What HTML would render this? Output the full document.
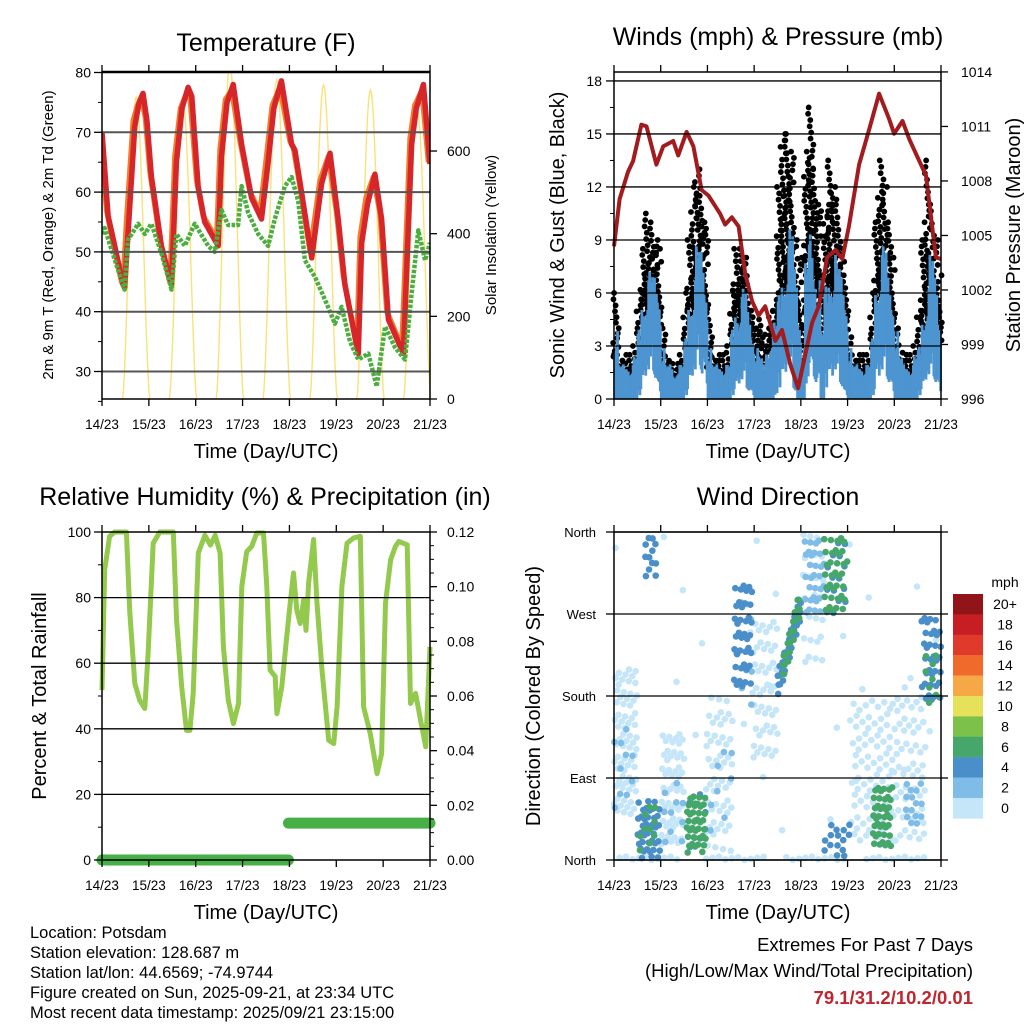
<!DOCTYPE html>
<html><head><meta charset="utf-8"><title>Weather station 7-day summary</title>
<style>
html,body{margin:0;padding:0;background:#fff;}
svg{display:block;font-family:"Liberation Sans",Arial,sans-serif;}
</style></head>
<body>
<svg id="chart" width="1024" height="1024" viewBox="0 0 1024 1024" xmlns="http://www.w3.org/2000/svg">
<rect x="0" y="0" width="1024" height="1024" fill="#fff"/>
<text x="266" y="51" font-size="25" text-anchor="middle">Temperature (F)</text>
<text x="778" y="45" font-size="25" text-anchor="middle">Winds (mph) &amp; Pressure (mb)</text>
<text x="265" y="505" font-size="25" text-anchor="middle">Relative Humidity (%) &amp; Precipitation (in)</text>
<text x="778" y="505" font-size="25" text-anchor="middle">Wind Direction</text>

<text x="266" y="458" font-size="20" text-anchor="middle">Time (Day/UTC)</text>
<text x="778" y="458" font-size="20" text-anchor="middle">Time (Day/UTC)</text>
<text x="266" y="919" font-size="20" text-anchor="middle">Time (Day/UTC)</text>
<text x="778" y="919" font-size="20" text-anchor="middle">Time (Day/UTC)</text>

<text transform="translate(53,235) rotate(-90)" font-size="15" text-anchor="middle">2m &amp; 9m T (Red, Orange) &amp; 2m Td (Green)</text>
<text transform="translate(496,235) rotate(-90)" font-size="15" text-anchor="middle">Solar Insolation (Yellow)</text>
<text transform="translate(564,235) rotate(-90)" font-size="20" text-anchor="middle">Sonic Wind &amp; Gust (Blue, Black)</text>
<text transform="translate(1020,235) rotate(-90)" font-size="20" text-anchor="middle">Station Pressure (Maroon)</text>
<text transform="translate(46,696) rotate(-90)" font-size="20" text-anchor="middle">Percent &amp; Total Rainfall</text>
<text transform="translate(540,696) rotate(-90)" font-size="20" text-anchor="middle">Direction (Colored By Speed)</text>

<g font-size="16.5">
<text x="30" y="938">Location: Potsdam</text>
<text x="30" y="958">Station elevation: 128.687 m</text>
<text x="30" y="978">Station lat/lon: 44.6569; -74.9744</text>
<text x="30" y="998">Figure created on Sun, 2025-09-21, at 23:34 UTC</text>
<text x="30" y="1018">Most recent data timestamp: 2025/09/21 23:15:00</text>
</g>
<g font-size="18.5" text-anchor="end">
<text x="973" y="951">Extremes For Past 7 Days</text>
<text x="973" y="977">(High/Low/Max Wind/Total Precipitation)</text>
<text x="973" y="1004" font-weight="bold" fill="#c0262d">79.1/31.2/10.2/0.01</text>
</g>
<g id="layer"></g>
</svg>
<script>
// ---------------- DATA ----------------
var dayLabels = ["14/23","15/23","16/23","17/23","18/23","19/23","20/23","21/23"];
var dayHours = [0,24,48,72,96,120,144,168];

var tempTicks = [30,40,50,60,70,80];
var solarTicks = [0,200,400,600];
var mphTicks = [0,3,6,9,12,15,18];
var pressTicks = [996,999,1002,1005,1008,1011,1014];
var rhTicks = [0,20,40,60,80,100];
var rainTicks = ["0.00","0.02","0.04","0.06","0.08","0.10","0.12"];
var dirTicks = [0,90,180,270,360];
var dirLabels = ["North","East","South","West","North"];

var redT = [0,3.1,6.5,10.8,11.6,13.3,16.8,19,21,23,25.3,30.4,35.6,38.1,41,44.1,46,49.2,52.6,59.5,61.2,64,67.2,71.5,76.6,81.7,85.1,88,91.9,97.1,98.8,102.2,107.4,112.5,116.8,121,124.4,131.3,133,136,139.8,143.2,146.7,154.4,158.6,161,164.6,168];
var redV = [70,56,51,44.5,44,53,71,75,76.5,72,62.6,51,44.5,65,74,77.5,76,61,55,51,66,75,78,68,59,55.5,65,74,78.6,68,67,60,49,61.4,66.5,55.5,44.5,33,51.5,58,63,55.5,38.7,33,68,74,78,64.7];
var orangeV = [70,57,51.5,45,44.5,55,72,74.5,75.5,72.5,63.5,52,45,66,74,76.5,75.5,62,56,52,67,75.5,77,68.5,60,56.5,66,74.5,77.5,68.5,67.5,61,50,62,66,56.5,46,34,52.5,59,62.5,56.5,40,34,69,74.5,77,65];
var dewT = [0,1.4,6.5,11.6,13.3,18.5,21.9,25.3,30.4,35.6,38.1,42.4,47.5,54.4,57.8,61.2,64.6,69.7,71.5,74.9,80,85.1,88.5,93.7,97.1,100.5,103.9,109.1,114.2,119.3,122.7,127,131.3,136.4,140.7,145,150.1,155.2,158.6,162,165.5,168];
var dewV = [53,54,48.7,43.7,52,54.7,53,54.7,49.8,43.7,53,51,54.7,51,50,57,54.5,54.5,61,56.5,53,51,55.5,61,62.5,58.5,48.6,45.8,42,38,40.8,35,32,33,27.5,37.5,34,32,43,53.6,48.6,51.5];
var solarNoon = [17.5,41.5,65.5,89.5,113.5,137.5,161.5];
var solarPeak = [731,715,810,772,760,748,699];

var windHours = [0,2,4,6,8,10,12,14,16,18,20,22,24,26,28,30,32,34,36,38,40,42,44,46,48,50,52,54,56,58,60,62,64,66,68,70,72,74,76,78,80,82,84,86,88,90,92,94,96,98,100,102,104,106,108,110,112,114,116,118,120,122,124,126,128,130,132,134,136,138,140,142,144,146,148,150,152,154,156,158,160,162,164,166];
var windMax = [4,2,2,2,2,2.5,4,6,7,7.5,7,6.5, 3,2,2,1.5,2,2,3.5,6,7,9,8.5,7, 3,2,2,2,2,2,4,5.5,6,6.5,5,4, 3,2.5,2,3,4,4.5,6,7.5,9,10,7.5,5, 3,8,9.5,8,7,4,6.5,7.5,8.5,8,7,6, 3,2,2,2,2,2,3.5,7,8.5,9,7,6, 4,2.5,2,2,2,2.5,3,5,6.5,8.5,7,5];
var windMin = [0,0,0,0,0,0,0.5,2,3,3,2.5,1, 0,0,0,0,0,0,0.5,2,3,3.5,3,2, 0,0,0,0,0,0,0.5,1.5,2,2,1,0.5, 0,0,0,0,0,0.5,1.5,2.5,3.5,3,1,0, 0,2,3,2,1.5,0,1.5,2.5,3,2.5,1.5,0.5, 0,0,0,0,0,0,0.5,2.5,3,3,2,1, 0,0,0,0,0,0,0.5,1.5,2.5,2.5,2,1];
var gustMax = [6,2.5,2.5,2,2.5,3,6,8.5,10.5,10,9,8.5, 4,2.5,2,2,2,2.5,6,9,12,13,11.5,10, 4.5,2.5,2.5,2.5,2.5,3,6.5,8.5,8.5,8,6.5,5, 4,4.5,3,4,5,6,12,15,15,14,9,8, 4,14,16.5,13,11,7,11,13.5,12,11,8.5,7, 3.5,2.5,2.5,2.5,2.5,2.5,6,10,13.5,12,10,8, 4,3,2.5,2.5,2.5,3,5,9,13.5,11,9,7];
var pressT = [0,2.9,7.2,9.8,14.1,16.7,21.8,25.3,30.4,33,37.3,40.8,45,48.5,54.5,57.1,60.5,64,67.4,70.9,74.3,77.7,82.9,86.3,90.6,94.6,98.4,101.8,105.2,109.5,113.8,117.3,120.7,125.9,131,136.2,141.4,143.9,148.2,151.7,156,160.3,165.4,168];
var pressV = [1004.4,1007.0,1008.5,1009.1,1011.1,1011.0,1008.9,1009.9,1010.2,1009.4,1010.7,1009.9,1007.5,1007.2,1006.2,1005.6,1006.0,1005.5,1002.9,1001.4,1000.6,1001.1,999.2,999.8,997.9,996.6,998.5,1000.2,1001.1,1003.8,1004.2,1003.7,1005.5,1008.9,1010.8,1012.8,1011.4,1010.6,1011.3,1010.3,1009.3,1008.3,1003.8,1003.7];

var rhT = [0,1.4,3.9,6.5,12.5,14.2,16.8,19.3,21.9,23.6,26.2,29.6,36.5,38.2,40.8,43.3,45,46.7,49.3,52.7,55.5,58,60.5,62.2,64.7,67.3,69.9,71.6,74.1,76.7,79.3,82.7,84.4,86.1,88.7,89.6,92.1,94.6,96.4,98.1,99.8,101.5,103.3,104.5,105.8,108.4,110.1,112.7,116.1,118.7,120.4,122.9,125.5,128.9,132.3,134,137.4,140.9,143.2,145.2,147.8,150.3,152,156.3,158,160.6,163.2,165.8,168];
var rhV = [51.8,88.5,98.7,100,100,76,53.8,48.7,46.2,63,96.6,100,100,73,52.8,39.5,39.5,50.8,93.6,99,96,99,93.6,65,48.7,41.6,47.7,83.4,94,95.6,99.7,99.7,83.4,57.9,55.9,44.6,52.8,68,78.3,87.5,76.2,72.1,79.3,70,84.4,97.7,78.3,57.9,36.5,35.5,46.7,83.4,96.6,98.2,98.7,46.7,38.5,26.3,32.4,78.3,91.5,95.6,97.1,96.1,47.7,50.8,42.6,34.5,65];
var rainT = [0,95.5,95.5,168];
var rainV = [0,0,0.0135,0.0135];

var speedBins = ["0","2","4","6","8","10","12","14","16","18","20+"];
var speedColors = ["#c4e6f8","#7fbde8","#4a8fca","#45a76a","#7cc14a","#e6e15a","#f7a846","#f06a2c","#df3a2b","#c71e24","#911419"];
var clT0 = [0,0,12,13,15,24,24,37,37,47,47,61,61,71,84,86,98,96,108,108,108,121,133,143,150,158,160,0,0];
var clT1 = [12,12,23.5,23,22,36,36,47.5,47.5,61,61,71,71,84,96,96,108,108,120,120,121,143,143,160,160,168,167,168,168];
var clD0 = [45,50,2,5,310,10,15,8,8,10,20,190,170,110,190,200,270,200,270,270,1,20,10,20,40,170,170,0,0];
var clD1 = [210,150,65,60,358,140,90,70,75,180,120,310,300,270,280,285,358,358,358,358,40,175,80,190,90,270,230,360,4];
var clSpd = [1,3,4,6,4,1,3,6.5,4,1,3,4,3,1,4.5,7,3,1,6.5,4,5,1,7,1,3,4,6,1,1];
var clN = [70,10,40,10,12,55,10,38,10,55,8,40,10,50,35,25,30,25,35,15,15,80,40,60,15,35,8,30,40];
var clDiag = [0,0,0,0,0,0,0,0,0,0,0,0,0,0,1,1,0,0,0,0,0,0,0,0,0,0,0,0,0];

// ---------------- DRAWING ----------------
var NS = "http://www.w3.org/2000/svg";
var layer = document.getElementById("layer");
function mk(tag, attrs, name, inter, parent) {
  var el = document.createElementNS(NS, tag);
  for (var k in attrs) el.setAttribute(k, attrs[k]);
  
  
  (parent || layer).appendChild(el);
  return el;
}
function txt(x, y, s, size, anchor, name, extra) {
  var a = {x: x, y: y, "font-size": size, "text-anchor": anchor};
  if (extra) for (var k in extra) a[k] = extra[k];
  var t = mk("text", a, name, false);
  t.textContent = s;
  return t;
}
function ln(x1, y1, x2, y2, color, w, name, g) {
  return mk("line", {x1: x1, y1: y1, x2: x2, y2: y2, stroke: color, "stroke-width": w}, name, false, g);
}

var P1 = {x0: 102, x1: 430, y0: 72, y1: 399};
var P2 = {x0: 614, x1: 941, y0: 72, y1: 399};
var P3 = {x0: 102, x1: 430, y0: 532, y1: 860};
var P4 = {x0: 614, x1: 941, y0: 532, y1: 860};
function xh(P, h) { return P.x0 + h / 168 * (P.x1 - P.x0); }
function yTemp(v) { return 371.5 - (v - 30) * 5.98; }
function ySolar(v) { return 399 - v * 0.4133; }
function yMph(v) { return 399 - v * 17.67; }
function yPress(v) { return 399 - (v - 996) * 18.17; }
function yRh(v) { return P3.y1 - v / 100 * (P3.y1 - P3.y0); }
function yRain(v) { return P3.y1 - v / 0.12 * (P3.y1 - P3.y0); }
function yDir(v) { return P4.y1 - v / 360 * (P4.y1 - P4.y0); }

function clip(id, P) {
  var defs = document.querySelector("defs") || mk("defs", {}, "defs", false);
  var c = mk("clipPath", {id: id}, "clip-" + id, false, defs);
  mk("rect", {x: P.x0, y: P.y0, width: P.x1 - P.x0, height: P.y1 - P.y0}, "clip-rect", false, c);
}
clip("c1", P1); clip("c2", {x0: 608, x1: 947, y0: 72, y1: 403}); clip("c3", {x0: 96, x1: 436, y0: 526, y1: 866}); clip("c4", {x0: 610, x1: 945, y0: 528, y1: 864});

function xAxis(P, prefix) {
  for (var i = 0; i < dayHours.length; i++) {
    var x = xh(P, dayHours[i]);
    ln(x, P.y1, x, P.y1 + 7, "#000", 1.3, prefix + "-x-tick");
    ln(x, P.y0, x, P.y0 - 7, "#000", 1.3, prefix + "-x-tick-top");
    txt(x, P.y1 + 30, dayLabels[i], 13.5, "middle", prefix + "-x-tick-label");
  }
}
function pathD(xs, ys) {
  var d = "";
  for (var i = 0; i < xs.length; i++) d += (i ? "L" : "M") + xs[i].toFixed(1) + " " + ys[i].toFixed(1);
  return d;
}

// ===== Panel 1: Temperature =====
var g1 = mk("g", {"clip-path": "url(#c1)"}, "temperature-plot", false);
for (var i = 0; i < tempTicks.length; i++) {
  var y = yTemp(tempTicks[i]);
  if (tempTicks[i] < 80) ln(P1.x0, y, P1.x1, y, "#555", 2, "temperature-gridline");
  ln(P1.x0 - 8, y, P1.x0, y, "#000", 1.3, "temperature-y-tick");
  ln(P1.x0 - 4, y + 29.9, P1.x0, y + 29.9, "#000", 1, "temperature-y-minor-tick");
  txt(P1.x0 - 11, y + 5, String(tempTicks[i]), 14, "end", "temperature-y-tick-label");
}
for (var i = 0; i < solarTicks.length; i++) {
  var y = ySolar(solarTicks[i]);
  ln(P1.x1, y, P1.x1 + 7, y, "#000", 1.3, "solar-y-tick");
  txt(P1.x1 + 17, y + 5, String(solarTicks[i]), 14, "start", "solar-y-tick-label");
}
for (var i = 0; i < solarNoon.length; i++) {
  var xs = [], ys = [];
  for (var k = -14; k <= 14; k++) {
    var hh = solarNoon[i] + k * 0.5;
    var cf = Math.cos(k / 14 * Math.PI / 2);
    xs.push(xh(P1, Math.min(168, hh)));
    ys.push(ySolar(solarPeak[i] * Math.pow(Math.max(cf, 0), 1.6)));
  }
  mk("path", {d: pathD(xs, ys), fill: "none", stroke: "#f9e27a", "stroke-width": 1.4}, "solar-curve-day-" + (i + 1), false, g1);
}
var xr = redT.map(function (h) { return xh(P1, h); });
mk("path", {d: pathD(xr.map(function (x) { return x - 1.5; }), orangeV.map(yTemp)), fill: "none", stroke: "#f37d2c", "stroke-width": 5.5, "stroke-linejoin": "round"}, "temp-9m-line", false, g1);
mk("path", {d: pathD(xr, redV.map(yTemp)), fill: "none", stroke: "#d7262a", "stroke-width": 5.5, "stroke-linejoin": "round"}, "temp-2m-line", false, g1);
mk("path", {d: pathD(dewT.map(function (h) { return xh(P1, h); }), dewV.map(yTemp)), fill: "none", stroke: "#4cae3f", "stroke-width": 4.5, "stroke-dasharray": "3.5 1.5", "stroke-linejoin": "round"}, "dewpoint-line", false, g1);
mk("rect", {x: P1.x0, y: P1.y0, width: P1.x1 - P1.x0, height: P1.y1 - P1.y0, fill: "none", stroke: "#000", "stroke-width": 1.5}, "temperature-frame", false);
ln(P1.x0, P1.y0, P1.x1, P1.y0, "#000", 2.5, "temperature-top-line");
xAxis(P1, "temperature");

// ===== Panel 2: Winds & Pressure =====
var g2 = mk("g", {"clip-path": "url(#c2)"}, "winds-plot", false);
for (var i = 0; i < mphTicks.length; i++) {
  var y = yMph(mphTicks[i]);
  ln(P2.x0, y, P2.x1, y, "#000", 1.3, "winds-gridline");
  ln(P2.x0 - 8, y, P2.x0, y, "#000", 1.3, "wind-y-tick");
  if (mphTicks[i] < 18) ln(P2.x0 - 4, y - 26.5, P2.x0, y - 26.5, "#000", 1, "wind-y-minor-tick");
  txt(P2.x0 - 12, y + 5, String(mphTicks[i]), 14, "end", "wind-y-tick-label");
}
for (var i = 0; i < pressTicks.length; i++) {
  var y = yPress(pressTicks[i]);
  ln(P2.x1, y, P2.x1 + 7, y, "#000", 1.3, "pressure-y-tick");
  txt(P2.x1 + 20, y + 5, String(pressTicks[i]), 14, "start", "pressure-y-tick-label");
}
var bw = (P2.x1 - P2.x0) / 84;
var jit = [0.1, 0.7, 0.35, 0.9, 0.5, 0.2, 0.8, 0.45, 0.05, 0.6, 0.3, 0.95];
for (var i = 0; i < windHours.length; i++) {
  var lo = windMax[i] * 0.6;
  var n = Math.max(3, Math.round((gustMax[i] - lo) / 0.28));
  for (var k = 0; k <= n; k++) {
    var v = lo + (gustMax[i] - lo) * Math.pow(k / n, 1.3);
    var jx = jit[(k * 5 + i * 7) % jit.length] * bw * 1.6 - bw * 0.3;
    mk("circle", {cx: xh(P2, windHours[i]) + jx, cy: yMph(v), r: 2.9, fill: "#000"}, "gust-point", false, g2);
  }
}
for (var i = 0; i < windHours.length; i++) {
  var bx = xh(P2, windHours[i]);
  for (var s = 0; s < 4; s++) {
    var wf = jit[(i * 3 + s * 5) % jit.length];
    var wTop = windMax[i] * (0.6 + 0.4 * wf);
    var wBot = windMin[i] * (0.4 + 0.8 * jit[(i + s * 7) % jit.length]);
    mk("line", {x1: bx + s * bw / 4 + 0.6, y1: yMph(wTop), x2: bx + s * bw / 4 + 0.6, y2: yMph(wBot), stroke: "#4d95d1", "stroke-width": 2.8}, "wind-speed-trace", false, g2);
  }
}
mk("path", {d: pathD(pressT.map(function (h) { return xh(P2, h); }), pressV.map(yPress)), fill: "none", stroke: "#a21c1f", "stroke-width": 4, "stroke-linejoin": "round"}, "pressure-line", false, g2);
mk("rect", {x: P2.x0, y: P2.y0, width: P2.x1 - P2.x0, height: P2.y1 - P2.y0, fill: "none", stroke: "#000", "stroke-width": 1.5}, "winds-frame", false);
xAxis(P2, "winds");

// ===== Panel 3: RH & precip =====
var g3 = mk("g", {"clip-path": "url(#c3)"}, "humidity-plot", false);
for (var i = 0; i < rhTicks.length; i++) {
  var y = yRh(rhTicks[i]);
  if (rhTicks[i] > 0 && rhTicks[i] < 100) ln(P3.x0, y, P3.x1, y, "#000", 1.3, "humidity-gridline");
  ln(P3.x0 - 8, y, P3.x0, y, "#000", 1.3, "humidity-y-tick");
  if (rhTicks[i] < 100) ln(P3.x0 - 4, y - 32.8, P3.x0, y - 32.8, "#000", 1, "humidity-y-minor-tick");
  txt(P3.x0 - 11, y + 5, String(rhTicks[i]), 14, "end", "humidity-y-tick-label");
}
for (var i = 0; i < rainTicks.length; i++) {
  var y = yRain(parseFloat(rainTicks[i]));
  ln(P3.x1, y, P3.x1 + 7, y, "#000", 1.3, "rain-y-tick");
  for (var m = 1; m < 4 && i < rainTicks.length - 1; m++) ln(P3.x1, y - m * 13.67, P3.x1 + 4, y - m * 13.67, "#000", 1, "rain-y-minor-tick");
  txt(P3.x1 + 17, y + 5, rainTicks[i], 14, "start", "rain-y-tick-label");
}
mk("path", {d: pathD(rhT.map(function (h) { return xh(P3, h); }), rhV.map(yRh)), fill: "none", stroke: "#93c94c", "stroke-width": 5, "stroke-linejoin": "round"}, "humidity-line", false, g3);
for (var i = 0; i < rainT.length - 1; i++) {
  if (rainV[i] === rainV[i + 1] && rainT[i + 1] > rainT[i]) {
    mk("line", {x1: xh(P3, rainT[i]), y1: yRain(rainV[i]), x2: xh(P3, rainT[i + 1]), y2: yRain(rainV[i]), stroke: "#46b046", "stroke-width": 11, "stroke-linecap": "round"}, "precip-segment", false, g3);
  }
}
mk("rect", {x: P3.x0, y: P3.y0, width: P3.x1 - P3.x0, height: P3.y1 - P3.y0, fill: "none", stroke: "#000", "stroke-width": 1.5}, "humidity-frame", false);
xAxis(P3, "humidity");

// ===== Panel 4: Wind direction =====
var g4 = mk("g", {"clip-path": "url(#c4)"}, "direction-plot", false);
for (var i = 0; i < dirTicks.length; i++) {
  var y = yDir(dirTicks[i]);
  ln(P4.x0, y, P4.x1, y, "#000", 1.3, "direction-gridline");
  ln(P4.x0 - 8, y, P4.x0, y, "#000", 1.3, "direction-y-tick");
  ln(P4.x1, y, P4.x1 + 7, y, "#000", 1.3, "direction-right-tick");
  txt(P4.x0 - 18, y + 5, dirLabels[i], 13, "end", "direction-y-tick-label");
}
var order = clSpd.map(function (s, i) { return i; }).sort(function (a, b) { return clSpd[a] - clSpd[b]; });
for (var oi = 0; oi < order.length; oi++) {
  var ci = order[oi];
  var col = speedColors[Math.min(10, Math.floor(clSpd[ci] / 2))];
  for (var k = 0; k < clN[ci]; k++) {
    var u = ((k + 0.5) * 0.7548777 + ci * 0.13) % 1;
    var v = ((k + 0.5) * 0.5698403 + ci * 0.37) % 1;
    var h = clT0[ci] + (clT1[ci] - clT0[ci]) * u;
    var d;
    if (clDiag[ci]) d = clD0[ci] + (clD1[ci] - clD0[ci]) * u + (v - 0.5) * 30;
    else d = clD0[ci] + (clD1[ci] - clD0[ci]) * v;
    mk("circle", {cx: xh(P4, h), cy: yDir(d), r: 3.3, fill: col}, "direction-point", false, g4);
  }
}
mk("rect", {x: P4.x0, y: P4.y0, width: P4.x1 - P4.x0, height: P4.y1 - P4.y0, fill: "none", stroke: "#000", "stroke-width": 1.5}, "direction-frame", false);
xAxis(P4, "direction");

// colorbar
txt(1005, 587, "mph", 14, "middle", "colorbar-unit");
for (var i = 0; i < speedBins.length; i++) {
  var idx = speedBins.length - 1 - i;
  var y = 594 + i * 20.4;
  mk("rect", {x: 953, y: y, width: 30, height: 20.6, fill: speedColors[idx]}, "colorbar-box-" + speedBins[idx], false);
  txt(1005, y + 15, speedBins[idx], 14, "middle", "colorbar-label");
}
</script>
</body></html>
